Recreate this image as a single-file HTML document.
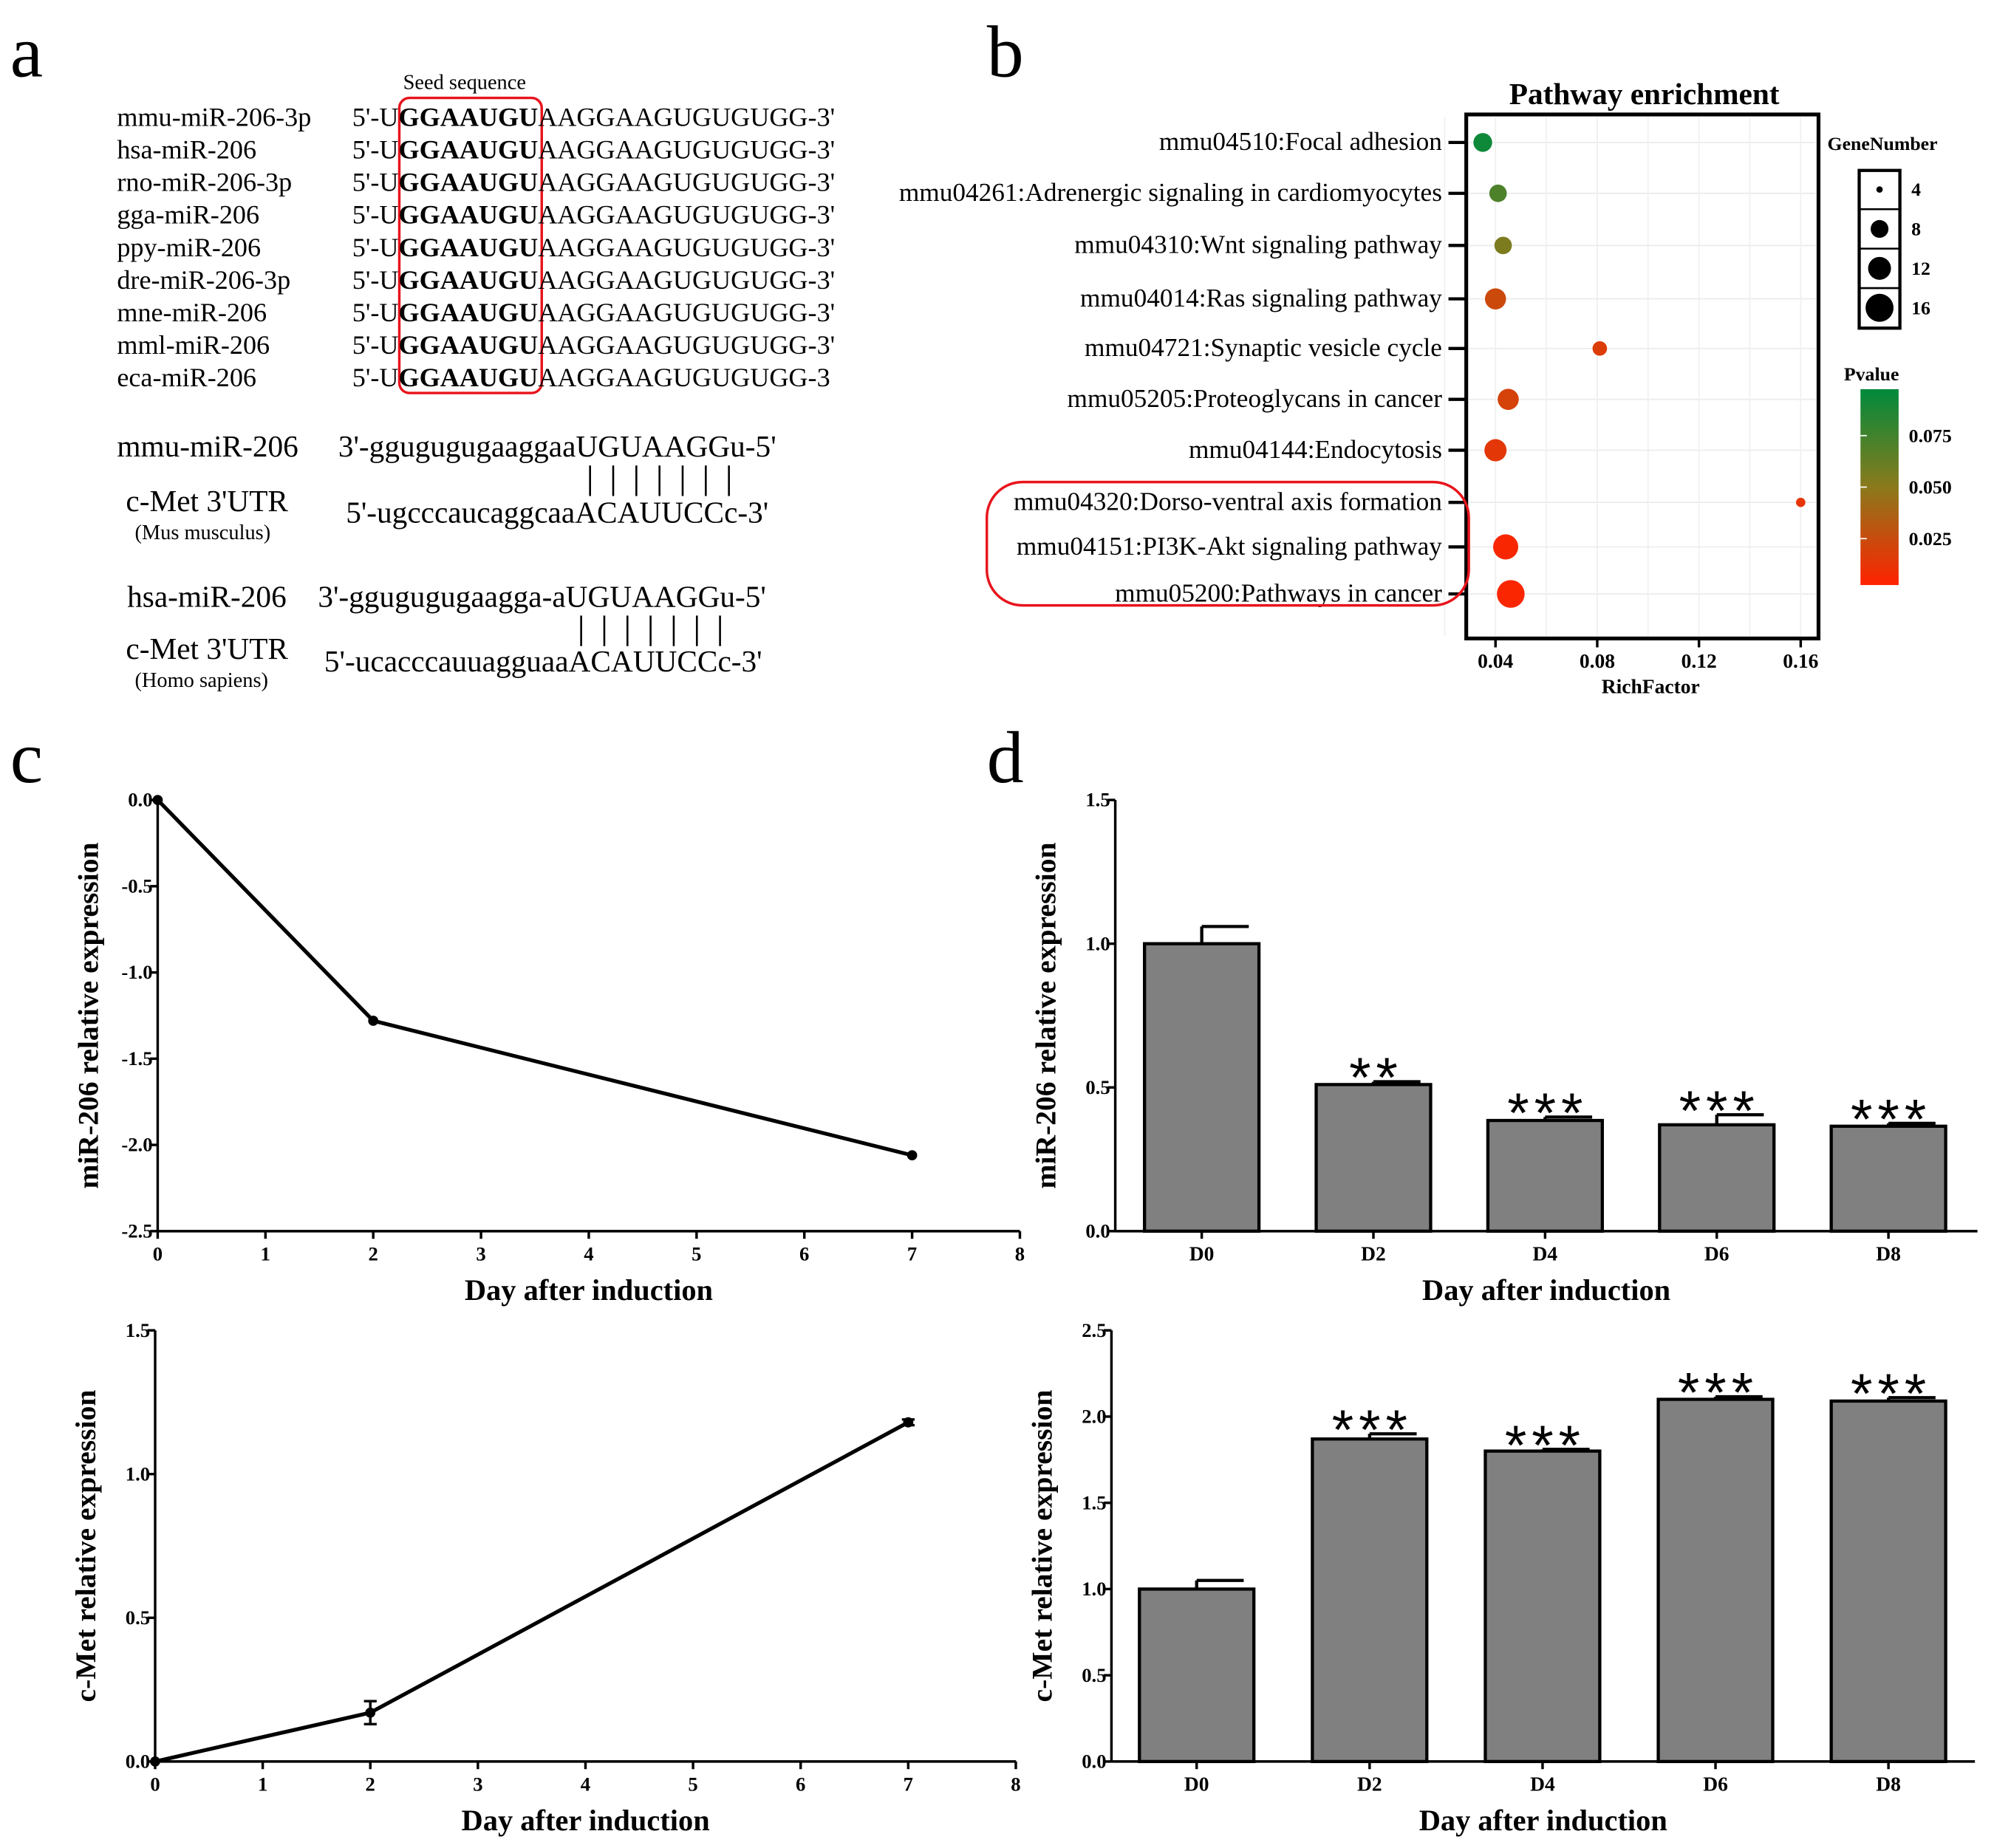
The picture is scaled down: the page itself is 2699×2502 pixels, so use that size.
<!DOCTYPE html>
<html><head><meta charset="utf-8"><style>
html,body{margin:0;padding:0;background:#fff;}
svg{display:block;font-family:"Liberation Serif",serif;}
</style></head><body>
<svg id="fig" width="2699" height="2502" viewBox="0 0 1568 1453" preserveAspectRatio="none" xmlns="http://www.w3.org/2000/svg">
<defs>
<linearGradient id="pgrad" x1="0" y1="0" x2="0" y2="1">
<stop offset="0" stop-color="#008a3c"/><stop offset="0.5" stop-color="#8a7a1c"/><stop offset="1" stop-color="#ff2200"/>
</linearGradient>
</defs>
<text x="8" y="60" font-size="58">a</text>
<text x="776" y="60" font-size="58">b</text>
<text x="8" y="615" font-size="58">c</text>
<text x="776" y="615" font-size="58">d</text>

<g id="panelA" font-size="21">
<text x="317" y="70" font-size="16.5">Seed sequence</text>
<rect x="314" y="77" width="112" height="232" rx="8" fill="none" stroke="#e8141c" stroke-width="2"/>
</g>
<g id="panelA2" font-size="24">
<text x="92" y="359">mmu-miR-206</text>
<text x="266" y="359">3'-ggugugugaaggaaUGUAAGGu-5'</text>
<text x="99" y="402">c-Met 3'UTR</text>
<text x="106" y="424" font-size="16.5">(Mus musculus)</text>
<text x="272" y="411">5'-ugcccaucaggcaaACAUUCCc-3'</text>
<text x="100" y="477">hsa-miR-206</text>
<text x="250" y="477">3'-ggugugugaagga-aUGUAAGGu-5'</text>
<text x="99" y="518">c-Met 3'UTR</text>
<text x="106" y="540" font-size="16.5">(Homo sapiens)</text>
<text x="255" y="528">5'-ucacccauuagguaaACAUUCCc-3'</text>
</g>

<g id="panelB">
<text x="1293" y="82" font-size="24" font-weight="bold" text-anchor="middle">Pathway enrichment</text>
<g id="bgrid"></g><g id="bpts"></g>
<rect x="1153" y="90" width="277" height="412" fill="none" stroke="#000" stroke-width="3"/>
<g id="blabels"></g>
<text x="1298" y="545" font-size="16" font-weight="bold" text-anchor="middle">RichFactor</text>
<rect x="776" y="379" width="379" height="97" rx="28" fill="none" stroke="#e8141c" stroke-width="2"/>
<text x="1437" y="118" font-size="15" font-weight="bold">GeneNumber</text>
<g id="sizeLegend"></g>
<text x="1450" y="299" font-size="15" font-weight="bold">Pvalue</text>
<rect x="1463" y="306" width="30" height="154" fill="url(#pgrad)"/>
<g id="pLegend"></g>
</g>

<g id="panelC1"></g>
<g id="panelC2"></g>
<g id="panelD1"></g>
<g id="panelD2"></g>
</svg>
<script>
const NS="http://www.w3.org/2000/svg";
function mk(tag,attrs,parent,txt){const e=document.createElementNS(NS,tag);for(const k in attrs)e.setAttribute(k,attrs[k]);if(txt!==undefined)e.textContent=txt;parent.appendChild(e);return e;}

const mirNames=["mmu-miR-206-3p","hsa-miR-206","rno-miR-206-3p","gga-miR-206","ppy-miR-206","dre-miR-206-3p","mne-miR-206","mml-miR-206","eca-miR-206"];
const mirTails=["AAGGAAGUGUGUGG-3'","AAGGAAGUGUGUGG-3'","AAGGAAGUGUGUGG-3'","AAGGAAGUGUGUGG-3'","AAGGAAGUGUGUGG-3'","AAGGAAGUGUGUGG-3'","AAGGAAGUGUGUGG-3'","AAGGAAGUGUGUGG-3'","AAGGAAGUGUGUGG-3"];
const gA=document.getElementById('panelA');
mirNames.forEach((n,i)=>{
  const y=99+i*25.6;
  const t=mk('text',{x:92,y:y},gA,n);
  
  
  const s=mk('text',{x:277,y:y},gA);
  
  
  mk('tspan',{},s,"5'-U");
  mk('tspan',{'font-weight':'bold'},s,"GGAAUGU");
  mk('tspan',{},s,mirTails[i]);
});
const gA2=document.getElementById('panelA2');
[[464,366,390],[457,484,508]].forEach(([x0,y1,y2])=>{
  for(let k=0;k<7;k++){const l=mk('line',{x1:x0+k*18.2,y1:y1,x2:x0+k*18.2,y2:y2,stroke:'#000','stroke-width':1.5},gA2);
  
  }
});

const pathways=["mmu04510:Focal adhesion","mmu04261:Adrenergic signaling in cardiomyocytes","mmu04310:Wnt signaling pathway","mmu04014:Ras signaling pathway","mmu04721:Synaptic vesicle cycle","mmu05205:Proteoglycans in cancer","mmu04144:Endocytosis","mmu04320:Dorso-ventral axis formation","mmu04151:PI3K-Akt signaling pathway","mmu05200:Pathways in cancer"];
const richFactor=[0.035,0.041,0.043,0.040,0.081,0.045,0.040,0.160,0.044,0.046];
const geneNumber=[7,6,6,9,4,9,10,2,13,16];
const pValue=[0.095,0.072,0.055,0.022,0.015,0.018,0.012,0.010,0.003,0.002];
const rowY=[112,152,193,235,274,314,354,395,430,467];
const bTicks=[0.04,0.08,0.12,0.16];
const bx=v=>1176+(v-0.04)*2000;
const br=n=>2.6*Math.sqrt(n)+ (n>3?0.5:0);
function pcol(p){const t=Math.max(0,Math.min(1,p/0.1));
 const c0=[255,34,0],c1=[138,122,28],c2=[0,138,60];let a,b,u;
 if(t<0.5){a=c0;b=c1;u=t/0.5}else{a=c1;b=c2;u=(t-0.5)/0.5}
 return 'rgb('+a.map((v,i)=>Math.round(v+(b[i]-v)*u)).join(',')+')';}
const bg=document.getElementById('bgrid'),bp=document.getElementById('bpts'),bl=document.getElementById('blabels');
rowY.forEach(y=>{const l=mk('line',{x1:1155,x2:1428,y1:y,y2:y,stroke:'#ebebeb','stroke-width':1},bg);
 
 });
[0.02,0.06,0.10,0.14].concat(bTicks).forEach(v=>{const l=mk('line',{x1:bx(v),x2:bx(v),y1:92,y2:500,stroke:'#f0f0f0','stroke-width':1},bg);
 
 });
pathways.forEach((p,i)=>{
 const t=mk('text',{x:1134,y:rowY[i]+6,'font-size':20.5,'text-anchor':'end'},bl,p);
 
 
 const tk=mk('line',{x1:1139,x2:1152,y1:rowY[i],y2:rowY[i],stroke:'#000','stroke-width':2.5},bl);
 
 
 const c=mk('circle',{cx:bx(richFactor[i]),cy:rowY[i],r:br(geneNumber[i]),fill:pcol(pValue[i])},bp);
 
 
});
bTicks.forEach(v=>{
 const tk=mk('line',{x1:bx(v),x2:bx(v),y1:502,y2:509,stroke:'#000','stroke-width':2},bl);
 
 
 const t=mk('text',{x:bx(v),y:525,'font-size':16,'font-weight':'bold','text-anchor':'middle'},bl,v.toFixed(2));
 
 
});
const sizeVals=[4,8,12,16];
const sl=document.getElementById('sizeLegend');
const fr=mk('rect',{x:1462,y:134,width:32,height:124,fill:'#fff',stroke:'#000','stroke-width':2.5},sl);


sizeVals.forEach((n,i)=>{const cy=149+i*31;
 const c=mk('circle',{cx:1478,cy:cy,r:[2.5,7,9,11][i]},sl);
 
 
 if(i>0){const l=mk('line',{x1:1462,x2:1494,y1:cy-15.5,y2:cy-15.5,stroke:'#000','stroke-width':1.5},sl);
 
 }
 const t=mk('text',{x:1503,y:cy+5,'font-size':15,'font-weight':'bold'},sl,n);
 
 });
const pTicks=[0.075,0.050,0.025];
const pl=document.getElementById('pLegend');
pTicks.forEach(v=>{const y=464-v*1620;
 const l=mk('line',{x1:1463,x2:1468,y1:y,y2:y,stroke:'#fff','stroke-width':1},pl);
 
 
 const t=mk('text',{x:1501,y:y+5,'font-size':15,'font-weight':'bold'},pl,v.toFixed(3));
 
 });

function axes(g,o){
 const ax=mk('line',{x1:o.x0,x2:o.x0,y1:o.yTop,y2:o.yBot,stroke:'#000','stroke-width':2},g);
 
 
 const axx=mk('line',{x1:o.x0,x2:o.x1,y1:o.yBot,y2:o.yBot,stroke:'#000','stroke-width':2},g);
 
 
 o.yticks.forEach(v=>{const y=o.sy(v);
  const l=mk('line',{x1:o.x0-6,x2:o.x0,y1:y,y2:y,stroke:'#000','stroke-width':2},g);
  
  
  const t=mk('text',{x:o.x0-4,y:y+5,'font-size':15.5,'font-weight':'bold','text-anchor':'end'},g,v.toFixed(1));
  
  });
 const t=mk('text',{x:(o.x0+o.x1)/2,y:o.yBot+54,'font-size':23.5,'font-weight':'bold','text-anchor':'middle'},g,'Day after induction');
 
 
 const yt=mk('text',{x:0,y:0,'font-size':23,'font-weight':'bold','text-anchor':'middle',transform:'translate('+(o.x0-47)+','+((o.yTop+o.yBot)/2)+') rotate(-90)'},g,o.ytitle);
 
 
}

const c1Days=[0,2,7];
const c1Vals=[0,-1.28,-2.06];
const c1Ticks=[0.0,-0.5,-1.0,-1.5,-2.0,-2.5];
const c2Days=[0,2,7];
const c2Vals=[0,0.17,1.18];
const c2Err=[0,0.04,0.01];
const c2Ticks=[0.0,0.5,1.0,1.5];
const dayTicks=[0,1,2,3,4,5,6,7,8];
function linePanel(id,o,days,vals,errs){
 const g=document.getElementById(id);
 axes(g,o);
 dayTicks.forEach(d=>{const x=o.sx(d);
  const l=mk('line',{x1:x,x2:x,y1:o.yBot,y2:o.yBot+6,stroke:'#000','stroke-width':2},g);
  
  
  const t=mk('text',{x:x,y:o.yBot+23,'font-size':15.5,'font-weight':'bold','text-anchor':'middle'},g,d);
  
  });
 const pts=days.map((d,i)=>o.sx(d)+','+o.sy(vals[i])).join(' ');
 const pl=mk('polyline',{points:pts,fill:'none',stroke:'#000','stroke-width':3},g);
 
 
 days.forEach((d,i)=>{
  const x=o.sx(d);
  if(errs&&errs[i]>0){const e1=o.sy(vals[i]+errs[i]),e2=o.sy(vals[i]-errs[i]);
   const eb=mk('path',{d:'M'+(x-5)+' '+e1+'H'+(x+5)+'M'+x+' '+e1+'V'+e2+'M'+(x-5)+' '+e2+'H'+(x+5),stroke:'#000','stroke-width':2,fill:'none'},g);
   
   }
  const c=mk('circle',{cx:x,cy:o.sy(vals[i]),r:4},g);
  
  });
}
linePanel('panelC1',{x0:124,x1:802,yTop:629,yBot:968,sx:d=>124+d*84.75,sy:v=>629+(-v)/2.5*339,yticks:c1Ticks,ytitle:'miR-206 relative expression'},c1Days,c1Vals,null);
linePanel('panelC2',{x0:122,x1:799,yTop:1046,yBot:1385,sx:d=>122+d*84.6,sy:v=>1385-v/1.5*339,yticks:c2Ticks,ytitle:'c-Met relative expression'},c2Days,c2Vals,c2Err);

const dCats=["D0","D2","D4","D6","D8"];
const d1Vals=[1.0,0.51,0.385,0.37,0.365];
const d1Err=[0.06,0.01,0.012,0.035,0.01];
const d1Stars=["","**","***","***","***"];
const d1Ticks=[0.0,0.5,1.0,1.5];
const d2Vals=[1.0,1.87,1.80,2.10,2.09];
const d2Err=[0.05,0.03,0.01,0.015,0.02];
const d2Stars=["","***","***","***","***"];
const d2Ticks=[0.0,0.5,1.0,1.5,2.0,2.5];
function barPanel(id,o,vals,errs,stars){
 const g=document.getElementById(id);
 dCats.forEach((c,i)=>{
  const x=o.cx(i),y=o.sy(vals[i]),w=90;
  const e=o.sy(vals[i]+errs[i]);
  const eb=mk('path',{d:'M'+x+' '+y+'V'+e+'M'+x+' '+e+'H'+(x+w/2-8),stroke:'#000','stroke-width':2.5,fill:'none'},g);
  
  
  const r=mk('rect',{x:x-w/2,y:y,width:w,height:o.yBot-y,fill:'#808080',stroke:'#000','stroke-width':2.5},g);
  
  
  if(stars[i]){const t=mk('text',{x:x+2,y:e+12,'font-size':44,'font-family':'Liberation Sans,sans-serif','text-anchor':'middle','letter-spacing':'4'},g,stars[i]);
   
   }
  const tl=mk('text',{x:x,y:o.yBot+23,'font-size':16,'font-weight':'bold','text-anchor':'middle'},g,c);
  
  
  const tk=mk('line',{x1:x,x2:x,y1:o.yBot,y2:o.yBot+6,stroke:'#000','stroke-width':2},g);
  
  
 });
 axes(g,o);
}
barPanel('panelD1',{x0:877,x1:1555,yTop:629,yBot:968,cx:i=>945+i*135,sy:v=>968-v/1.5*339,yticks:d1Ticks,ytitle:'miR-206 relative expression'},d1Vals,d1Err,d1Stars);
barPanel('panelD2',{x0:874,x1:1553,yTop:1046,yBot:1385,cx:i=>941+i*136,sy:v=>1385-v/2.5*339,yticks:d2Ticks,ytitle:'c-Met relative expression'},d2Vals,d2Err,d2Stars);
</script>
</body></html>
